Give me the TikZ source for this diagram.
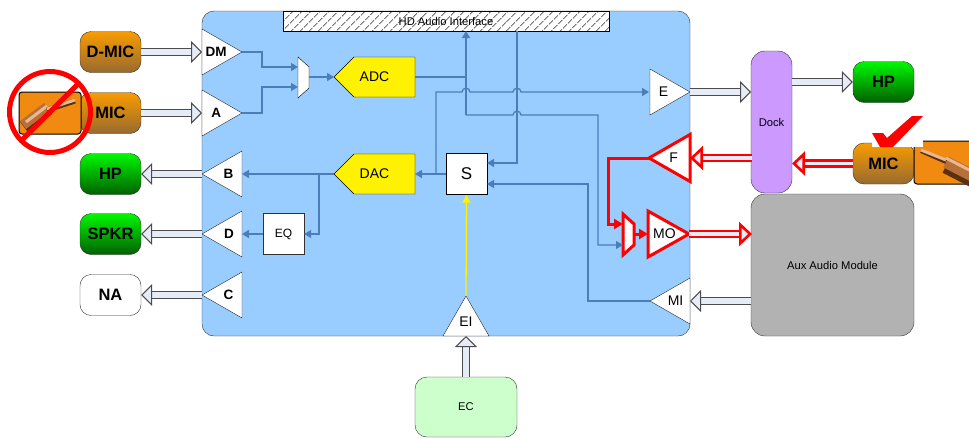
\documentclass[tikz,border=0pt]{standalone}
\usepackage{fontspec}
\setmainfont{Liberation Sans}
\usetikzlibrary{arrows.meta,patterns.meta,shapes.geometric,shapes.symbols}
\definecolor{blockblue}{HTML}{99CCFF}
\definecolor{wireblue}{HTML}{4A7EBB}
\definecolor{arrowfill}{HTML}{E6ECF7}
\definecolor{dockpurple}{HTML}{CC99FF}
\definecolor{auxgray}{HTML}{B2B2B2}
\definecolor{ecgreen}{HTML}{CCFFCC}
\definecolor{jackorange}{HTML}{F08A10}
\definecolor{jacktop}{HTML}{F89C00}
\definecolor{jackbottom}{HTML}{986A30}
\definecolor{greentop}{HTML}{00F800}
\definecolor{greenbottom}{HTML}{006000}
\definecolor{copper}{HTML}{B8703A}
\definecolor{copperlight}{HTML}{E8B890}
\definecolor{copperdark}{HTML}{5A3010}
\tikzset{
    jackbox/.style={draw=black!80, rounded corners=11pt, minimum width=61pt, minimum height=41pt, inner sep=0pt, font=\fontsize{16.5}{20}\selectfont\bfseries},
    orangejack/.style={jackbox, top color=jacktop, bottom color=jackbottom},
    greenjack/.style={jackbox, top color=greentop, bottom color=greenbottom},
    amp/.style={isosceles triangle, isosceles triangle stretches, draw=black!85, fill=white, inner sep=0pt, outer sep=0pt, minimum width=46pt, minimum height=40pt, anchor=apex, font=\fontsize{14}{16}\selectfont},
    ampright/.style={amp},
    ampleft/.style={amp, shape border rotate=180},
    ampfont/.style={font=\fontsize{13.5}{16}\selectfont\bfseries},
    redamp/.style={draw=red, line width=3pt},
    converter/.style={signal, signal to=west, signal pointer angle=90, draw=black, fill=yellow, minimum width=81pt, minimum height=40pt, inner sep=0pt, outer sep=0pt, anchor=east, font=\fontsize{14}{18}\selectfont},
    wire/.style={draw=wireblue, line width=1.3pt, -{Triangle[length=7pt,width=8pt]}},
    wireplain/.style={draw=wireblue, line width=1.3pt},
    redwire/.style={draw=red, line width=3pt, -{Triangle[length=9pt,width=10pt]}},
    fat/.style={double=arrowfill, draw=black!70, line width=1pt, double distance=5.5pt, -{Triangle[fill=arrowfill,length=11pt,width=22pt,line width=1pt]}},
    fatred/.style={double=arrowfill, draw=red, line width=2.6pt, double distance=3.2pt, -{Triangle[fill=arrowfill,length=13pt,width=24pt,line width=2.6pt]}},
    smalltext/.style={font=\fontsize{11.2}{13}\selectfont}
}
\newcommand{\hop}[2]{.. controls +(0,-5) and +(0,-5) .. (#1+8,#2)}
\begin{document}
\begin{tikzpicture}[x=1pt,y=-1pt]
    \useasboundingbox (0,0) rectangle (969,437);

    % Main block
    \node (codec) [draw=black!80, fill=blockblue, rounded corners=12pt, minimum width=488pt, minimum height=325pt, inner sep=0pt] at (446,173.5) {};
    \node (hda) [draw=black, preaction={fill=white}, pattern={Lines[angle=45,distance=6.4pt,line width=0.7pt]}, pattern color=black!80, minimum width=326pt, minimum height=20pt, inner sep=0pt, smalltext] at (446,21) {HD Audio Interface};

    % Jacks on the left
    \node (dmic) [orangejack] at (110.5,52) {D-MIC};
    \node (micl) [orangejack] at (110.5,113) {MIC};
    \node (hpl) [greenjack] at (110.5,174) {HP};
    \node (spkr) [greenjack] at (110.5,234) {SPKR};
    \node (na) [jackbox, fill=white] at (110.5,295) {NA};

    % Amplifiers
    \node (dm) [ampright, ampfont] at (242,52) {DM};
    \node (a) [ampright, ampfont] at (242,113) {\kern3pt A};
    \node (b) [ampleft, ampfont] at (202,174) {B\kern2pt};
    \node (d) [ampleft, ampfont] at (202,234) {D\kern1pt};
    \node (c) [ampleft, ampfont] at (202,295) {C\kern2pt};
    \node (e) [ampright] at (690,92) {\kern2pt E};
    \node (f) [ampleft, redamp, minimum width=47pt, minimum height=41pt] at (649,158) {F\kern6pt};
    \node (mo) [ampright, redamp, minimum width=46pt, minimum height=41pt] at (689,234) {\kern3pt MO};
    \node (mi) [ampleft] at (650,301) {MI\kern2pt};
    \node (ei) [amp, shape border rotate=90] at (466,296) {\rule[-4.5pt]{0pt}{4.5pt}EI};

    % Muxes
    \draw[draw=black, fill=white] (298,57) -- (309,67) -- (309,88) -- (298,98) -- cycle;
    \draw[draw=red, line width=3pt, fill=white] (623,214) -- (634,224) -- (634,245) -- (623,255) -- cycle;
    \coordinate (muxl) at (298,67);
    \coordinate (muxm) at (298,87);
    \coordinate (muxo) at (309,77);
    \coordinate (muxfa) at (623,224);
    \coordinate (muxfb) at (623,245);
    \coordinate (muxfo) at (634,234);

    % Converters and small boxes
    \node (adc) [converter] at (415,77) {ADC\kern20pt};
    \node (dac) [converter] at (415,174) {DAC\kern20pt};
    \node (s) [draw=black, fill=white, minimum size=41pt, inner sep=0pt, font=\fontsize{17}{20}\selectfont] at (466.5,174) {S};
    \node (eq) [draw=black!80, fill=white, minimum size=41pt, inner sep=0pt, font=\fontsize{12}{14}\selectfont] at (283.5,234) {EQ};

    % Blocks around the codec
    \node (dock) [draw=black!80, fill=dockpurple, rounded corners=14pt, minimum width=41pt, minimum height=142pt, inner sep=0pt, smalltext] at (771.5,122) {Dock};
    \node (aux) [draw=black!80, fill=auxgray, rounded corners=14pt, minimum width=163pt, minimum height=142pt, inner sep=0pt, smalltext] at (832.5,265) {Aux Audio Module};
    \node (hpr) [greenjack] at (883.5,82) {HP};
    \node (micr) [orangejack] at (883.5,163.5) {MIC};
    \node (ec) [draw=black!80, fill=ecgreen, rounded corners=12pt, minimum width=102pt, minimum height=60pt, inner sep=0pt, smalltext] at (466,407) {EC};

    % Jack photo, left, with the no sign
    \draw[black, line width=1pt, fill=jackorange, rounded corners=3pt] (19,92) rectangle (81,134);
    \draw[copperdark, line width=13pt] (24,127) -- (48,109);
    \draw[copper, line width=10pt] (23,125) -- (47,107);
    \draw[copperlight, line width=3pt] (26,122) -- (47,106);
    \draw[copperdark, line width=5pt] (47,110) -- (75,101);
    \draw[copperlight, line width=3pt] (47,109) -- (75,100);
    \draw[red, line width=5pt] (50,112) circle[radius=40.5];
    \draw[red, line width=5pt] (78.6,83.4) -- (21.4,140.6);

    % Jack photo, right, with the check mark
    \draw[black, line width=1pt, fill=jackorange, rounded corners=3pt] (914,141) rectangle (975,184);
    \draw[copperdark, line width=15pt] (946,166) -- (975,181);
    \draw[copper, line width=12pt] (946,162) -- (975,177);
    \draw[copperlight, line width=3pt] (946,158) -- (975,173);
    \draw[copperdark, line width=4pt] (921,151) -- (946,162);
    \draw[copperlight, line width=3pt] (921,150) -- (946,160);
    \fill[white] (872,116) rectangle (923,147);
    \fill[red] (872,133) -- (883,133) -- (887,138) -- (912,116) -- (923,116) -- (893,147) -- (880,147) -- cycle;

    % Blue wires
    \draw[wire] (dm.apex) -- (262,52) -- (262,67) -- (muxl);
    \draw[wire] (a.apex) -- (262,113) -- (262,87) -- (muxm);
    \draw[wire] (muxo) -- (adc.west);
    \draw[wireplain] (adc.east) -- (466,77);
    \draw[wire] (466,115) -- (466,31);
    \draw[wire] (466,115) -- (513,115) \hop{513}{115} -- (598,115) -- (598,245) -- (muxfb);
    \draw[wire] (436,174) -- (436,92) -- (462,92) \hop{462}{92} -- (513,92) \hop{513}{92} -- (649,92);
    \draw[wire] (517,31) -- (517,163) -- (487,163);
    \draw[wire] (mi.apex) -- (588,301) -- (588,184) -- (487,184);
    \draw[wire] (s.west) -- (dac.east);
    \draw[wire] (dac.west) -- (242,174);
    \draw[wire] (319,174) -- (319,234) -- (eq.east);
    \draw[wire] (eq.west) -- (242,234);
    \draw[draw=yellow, line width=1.3pt, -{Triangle[length=8pt,width=8pt]}] (ei.apex) -- (s.south);

    % Red path
    \draw[redwire] (f.apex) -- (608,158) -- (608,224) -- (muxfa);
    \draw[redwire] (muxfo) -- (648,234);

    % Block arrows
    \draw[fat] (dmic.east) -- (202,52);
    \draw[fat] (micl.east) -- (202,113);
    \draw[fat] (202,174) -- (hpl.east);
    \draw[fat] (202,234) -- (spkr.east);
    \draw[fat] (202,295) -- (na.east);
    \draw[fat] (e.apex) -- (751,92);
    \draw[fat] (792,82) -- (hpr.west);
    \draw[fat] (751,301) -- (690,301);
    \draw[fat] (ec.north) -- (466,336);
    \draw[fatred] (752,158) -- (690,158);
    \draw[fatred] (micr.west) -- (792,163.5);
    \draw[fatred] (mo.apex) -- (752,234);
\end{tikzpicture}
\end{document}
